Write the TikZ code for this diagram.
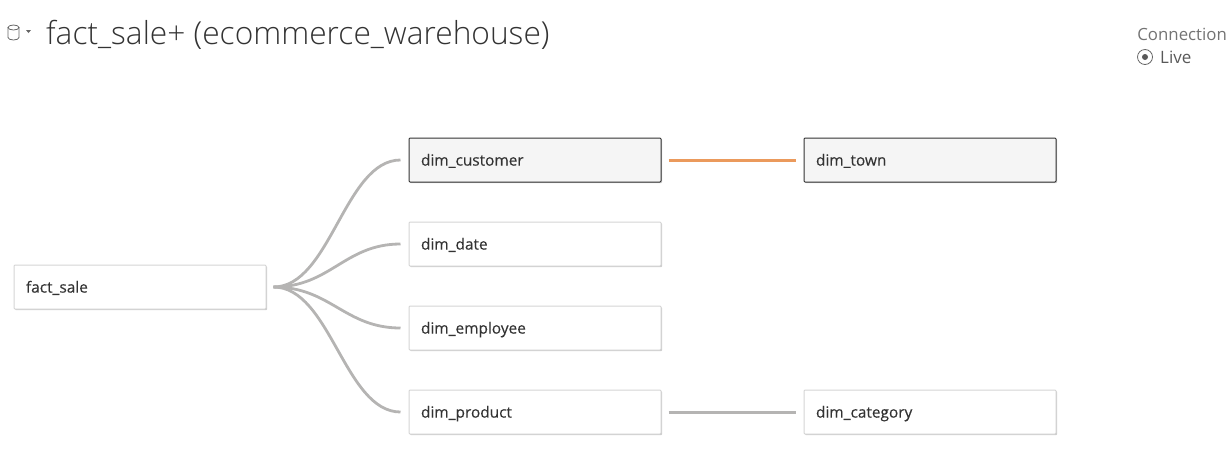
\documentclass[tikz,border=0pt]{standalone}
\usepackage{fontspec}
\setmainfont{Open Sans}
\newfontfamily\titlefont{Open Sans Light}
\newfontfamily\boxfont[FakeBold=0.25]{Open Sans}
\usetikzlibrary{shadows}
\definecolor{linkgrey}{HTML}{B5B4B3}
\definecolor{linkorange}{HTML}{EB9A5C}
\definecolor{boxedge}{HTML}{D4D4D4}
\definecolor{inktext}{HTML}{333333}
\tikzset{
  tablebox/.style={draw=boxedge,fill=white,line width=1pt,rounded corners=1pt,minimum width=252pt,minimum height=44pt,
    inner sep=0pt,text width=228pt,text height=14.2pt,text depth=3pt,align=left,text=inktext,font=\boxfont\fontsize{15.4}{18}\selectfont,
    drop shadow={shadow xshift=1.2pt,shadow yshift=-1.2pt,fill=black,opacity=0.2}},
  pickedbox/.style={tablebox,draw=black!80,fill=black!4},
  joinline/.style={line width=2.8pt,linkgrey,shorten >=8pt,shorten <=7pt},
  barline/.style={joinline,line width=3pt},
}
\begin{document}
\begin{tikzpicture}[x=1pt,y=-1pt]
  \useasboundingbox (0,0) rectangle (1229,467);
  % header
  \draw[black!60,line width=0.8pt] (8,27.5) -- (8,37.5) arc[start angle=180,end angle=0,x radius=5.5,y radius=2.5] -- (19,27.5);
  \draw[black!60,line width=0.8pt] (13.5,27.5) ellipse (5.5 and 2.5);
  \fill[black!60] (26,30) -- (31,30) -- (28.5,33) -- cycle;
  \node[anchor=west,inner sep=0pt,text=inktext,font=\titlefont\fontsize{31.7}{36}\selectfont] (title) at (46,34.5) {fact\_sale+ (ecommerce\_warehouse)};
  \node[anchor=east,inner sep=0pt,text=black!55,font=\fontsize{16.8}{20}\selectfont] (connection) at (1227,34.5) {Connection};
  \node[anchor=west,inner sep=0pt,text=black!65,font=\fontsize{17}{20}\selectfont] (live) at (1160,57.5) {Live};
  \draw[black!60,line width=0.8pt] (1145,57) circle (7.5);
  \fill[black!65] (1145,57) circle (3);
  % tables
  \node[tablebox] (fact_sale) at (140,287) {fact\_sale};
  \node[pickedbox] (dim_customer) at (535,160) {dim\_customer};
  \node[tablebox] (dim_date) at (535,244) {dim\_date};
  \node[tablebox] (dim_employee) at (535,328) {dim\_employee};
  \node[tablebox] (dim_product) at (535,412) {dim\_product};
  \node[pickedbox] (dim_town) at (930,160) {dim\_town};
  \node[tablebox] (dim_category) at (930,412) {dim\_category};
  % joins
  \foreach \dname in {dim_customer,dim_date,dim_employee,dim_product}{
    \draw[joinline] (fact_sale.east) .. controls +(64,0) and +(-64,0) .. (\dname.west);
  }
  \draw[barline,linkorange] (dim_customer.east) -- (dim_town.west);
  \draw[barline] (dim_product.east) -- (dim_category.west);
\end{tikzpicture}
\end{document}
